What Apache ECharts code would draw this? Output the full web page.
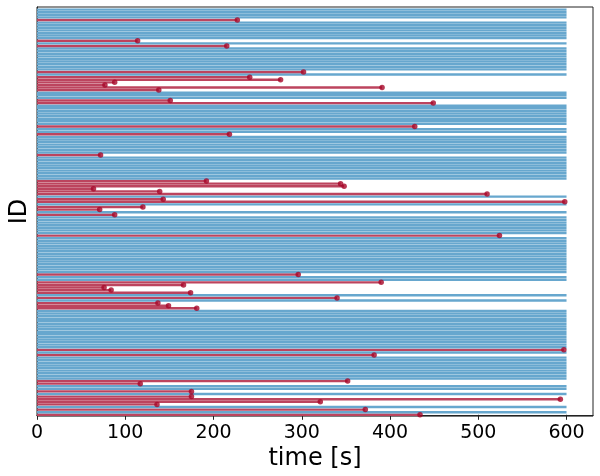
<!DOCTYPE html>
<html><head><meta charset="utf-8">
<script src="https://cdn.jsdelivr.net/npm/echarts@6/dist/echarts.min.js"></script>
<style>html,body{margin:0;padding:0;background:#fff}#c{width:600px;height:476px}</style>
</head><body><div id="c"></div>
<script>
// Durations per subject ID (ID 0 at the bottom), and whether the event was observed
const durations = [
  434,600,372,600,136,321,593,175,600,175,
  600,600,117,352,600,600,600,600,600,600,
  600,600,600,382,600,597,600,600,600,600,
  600,600,600,600,600,600,600,600,600,600,
  600,181,149,137,600,340,600,174,84,76,
  166,390,600,600,296,600,600,600,600,600,
  600,600,600,600,600,600,600,600,600,524,
  600,600,600,600,600,600,600,88,600,71,
  120,600,598,143,600,510,139,64,348,344,
  192,600,600,600,600,600,600,600,600,600,
  72,600,600,600,600,600,600,600,218,600,
  600,428,600,600,600,600,600,600,600,600,
  449,151,600,600,600,138,391,77,88,276,
  241,600,302,600,600,600,600,600,600,600,
  600,600,215,600,114,600,600,600,600,600,
  600,600,227,600,600,600,600
];
const observed = [
  1,0,1,0,1,1,1,1,0,1,
  0,0,1,1,0,0,0,0,0,0,
  0,0,0,1,0,1,0,0,0,0,
  0,0,0,0,0,0,0,0,0,0,
  0,1,1,1,0,1,0,1,1,1,
  1,1,0,0,1,0,0,0,0,0,
  0,0,0,0,0,0,0,0,0,1,
  0,0,0,0,0,0,0,1,0,1,
  1,0,1,1,0,1,1,1,1,1,
  1,0,0,0,0,0,0,0,0,0,
  1,0,0,0,0,0,0,0,1,0,
  0,1,0,0,0,0,0,0,0,0,
  1,1,0,0,0,1,1,1,1,1,
  1,0,1,0,0,0,0,0,0,0,
  0,0,1,0,1,0,0,0,0,0,
  0,0,1,0,0,0,0
];
const xTicks = [0,100,200,300,400,500,600];
const xName = 'time [s]';
const yName = 'ID';

const N = durations.length;
const lineData = durations.map((d, i) => [0, d, i, observed[i]]);
const dotData = durations.map((d, i) => [d, i, observed[i]]).filter(r => r[2] === 1).map(r => [r[0], r[1]]);

const chart = echarts.init(document.getElementById('c'), null, {renderer: 'canvas'});
const axisColor = '#222';
const font = 'DejaVu Sans';
chart.setOption({
  animation: false,
  backgroundColor: '#fff',
  grid: {left: 35, right: 7, top: 7, bottom: 59, show: true, borderColor: axisColor, borderWidth: 1},
  xAxis: {
    type: 'value', min: 0, max: 630,
    axisLine: {show: true, lineStyle: {color: axisColor}},
    axisTick: {show: true, length: 5, customValues: xTicks, lineStyle: {color: axisColor}},
    axisLabel: {customValues: xTicks, fontSize: 19, color: '#000', margin: 7, fontFamily: font},
    splitLine: {show: false},
    name: xName, nameLocation: 'middle', nameGap: 27,
    nameTextStyle: {fontSize: 24, color: '#000', fontFamily: font}
  },
  yAxis: {
    type: 'value', min: -0.5, max: N,
    axisLine: {show: true, lineStyle: {color: axisColor}},
    axisTick: {show: false}, axisLabel: {show: false}, splitLine: {show: false},
    name: yName, nameLocation: 'middle', nameGap: 5,
    nameTextStyle: {fontSize: 24, color: '#000', fontFamily: font}
  },
  series: [
    {
      type: 'custom',
      data: lineData,
      encode: {x: [0, 1], y: 2},
      renderItem: function (params, api) {
        const p0 = api.coord([api.value(0), api.value(2)]);
        const p1 = api.coord([api.value(1), api.value(2)]);
        return {
          type: 'line',
          shape: {x1: p0[0], y1: p0[1], x2: p1[0], y2: p1[1]},
          style: {stroke: api.value(3) ? '#bc445e' : '#67a7ce', lineWidth: 2.4}
        };
      },
      z: 2
    },
    {
      type: 'scatter',
      data: dotData,
      symbol: 'circle',
      symbolSize: 5.5,
      itemStyle: {color: '#A60628'},
      z: 3
    }
  ]
});
</script>
</body></html>
